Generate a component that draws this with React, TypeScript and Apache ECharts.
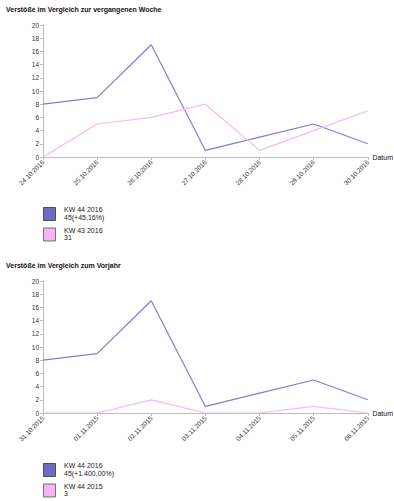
import React, { useEffect, useRef } from "react";
import * as echarts from "echarts";

const titles = ["Verstöße im Vergleich zur vergangenen Woche", "Verstöße im Vergleich zum Vorjahr"];
const dates1 = ["24.10.2016", "25.10.2016", "26.10.2016", "27.10.2016", "28.10.2016", "29.10.2016", "30.10.2016"];
const dates2 = ["31.10.2015", "01.11.2015", "02.11.2015", "03.11.2015", "04.11.2015", "05.11.2015", "06.11.2015"];
const current = [8, 9, 17, 1, 3, 5, 2];
const prevWeek = [0, 5, 6, 8, 1, 4, 7];
const prevYear = [0, 0, 2, 0, 0, 1, 0];
const names1 = ["KW 44 2016", "KW 43 2016"];
const names2 = ["KW 44 2016", "KW 44 2015"];

const BLUE = "#7f7fd0";
const PINK = "#f7b8f5";
const BLUE_BOX = "#6b6bc2";
const PINK_BOX = "#f5b5f3";
const FONT = "Liberation Sans";

const sum = (a: number[]) => a.reduce((s, v) => s + v, 0);
const pct = (a: number, b: number) =>
  ((a - b) / b * 100).toLocaleString("de-DE", { minimumFractionDigits: 2, maximumFractionDigits: 2 });

export default function App() {
  const ref = useRef<HTMLDivElement>(null);
  useEffect(() => {
    const chart = echarts.init(ref.current!, undefined, { renderer: "svg" });
    const tops = [25, 281];
    const legendTops = [207, 463];
    const cats = [dates1, dates2];
    const names = [names1, names2];
    const others = [prevWeek, prevYear];
    const grids = tops.map((t) => ({ left: 43, width: 330, top: t, height: 132 }));
    const xAxis = cats.map((c, i) => ({
      type: "category",
      gridIndex: i,
      data: c,
      boundaryGap: false,
      name: "Datum",
      nameGap: 2,
      nameTextStyle: { fontSize: 7, color: "#111", fontFamily: FONT },
      axisLine: { lineStyle: { color: "#bbb" } },
      axisTick: { show: true, length: 3, lineStyle: { color: "#bbb" } },
      axisLabel: { rotate: 45, fontSize: 6.5, color: "#333", fontFamily: FONT, margin: 4, interval: 0 },
    }));
    const yAxis = cats.map((_, i) => ({
      type: "value",
      gridIndex: i,
      min: 0,
      max: 20,
      interval: 2,
      axisLine: { show: true, lineStyle: { color: "#bbb" } },
      axisTick: { show: true, length: 3, lineStyle: { color: "#bbb" } },
      splitLine: { show: false },
      axisLabel: { fontSize: 6.5, color: "#333", fontFamily: FONT, margin: 4 },
    }));
    const series: any[] = [];
    [0, 1].forEach((i) => {
      series.push({
        type: "line", name: names[i][0], xAxisIndex: i, yAxisIndex: i, data: current,
        symbol: "none", lineStyle: { color: BLUE, width: 1.2 }, itemStyle: { color: BLUE_BOX },
      });
      series.push({
        type: "line", name: names[i][1], xAxisIndex: i, yAxisIndex: i, data: others[i],
        symbol: "none", lineStyle: { color: PINK, width: 1.2 }, itemStyle: { color: PINK_BOX },
      });
    });
    const graphic: any[] = [];
    [0, 1].forEach((i) => {
      const cur = sum(current);
      const oth = sum(others[i]);
      const items = [
        { fill: BLUE_BOX, stroke: "#333", text: `${names[i][0]}\n${cur}(+${pct(cur, oth)}%)` },
        { fill: PINK_BOX, stroke: "#555", text: `${names[i][1]}\n${oth}` },
      ];
      items.forEach((it, k) => {
        const y = legendTops[i] + k * 20.5;
        graphic.push({
          type: "rect",
          shape: { x: 43.5, y: y + 0.5, width: 12, height: 13 },
          style: { fill: it.fill, stroke: it.stroke, lineWidth: 0.8 },
        });
        graphic.push({
          type: "text",
          x: 64,
          y: y - 1,
          style: { text: it.text, fontSize: 7, lineHeight: 7.5, fill: "#222", fontFamily: FONT },
        });
      });
    });
    chart.setOption({
      animation: false,
      title: titles.map((t, i) => ({
        text: t,
        left: 1,
        top: i === 0 ? 1 : 257,
        textStyle: { fontSize: 7, fontWeight: "bold", color: "#111", fontFamily: FONT },
      })),
      grid: grids,
      xAxis,
      yAxis,
      series,
      graphic,
    });
    return () => chart.dispose();
  }, []);
  return <div ref={ref} style={{ position: "fixed", left: 0, top: 0, width: 394, height: 501, background: "#fff" }} />;
}
